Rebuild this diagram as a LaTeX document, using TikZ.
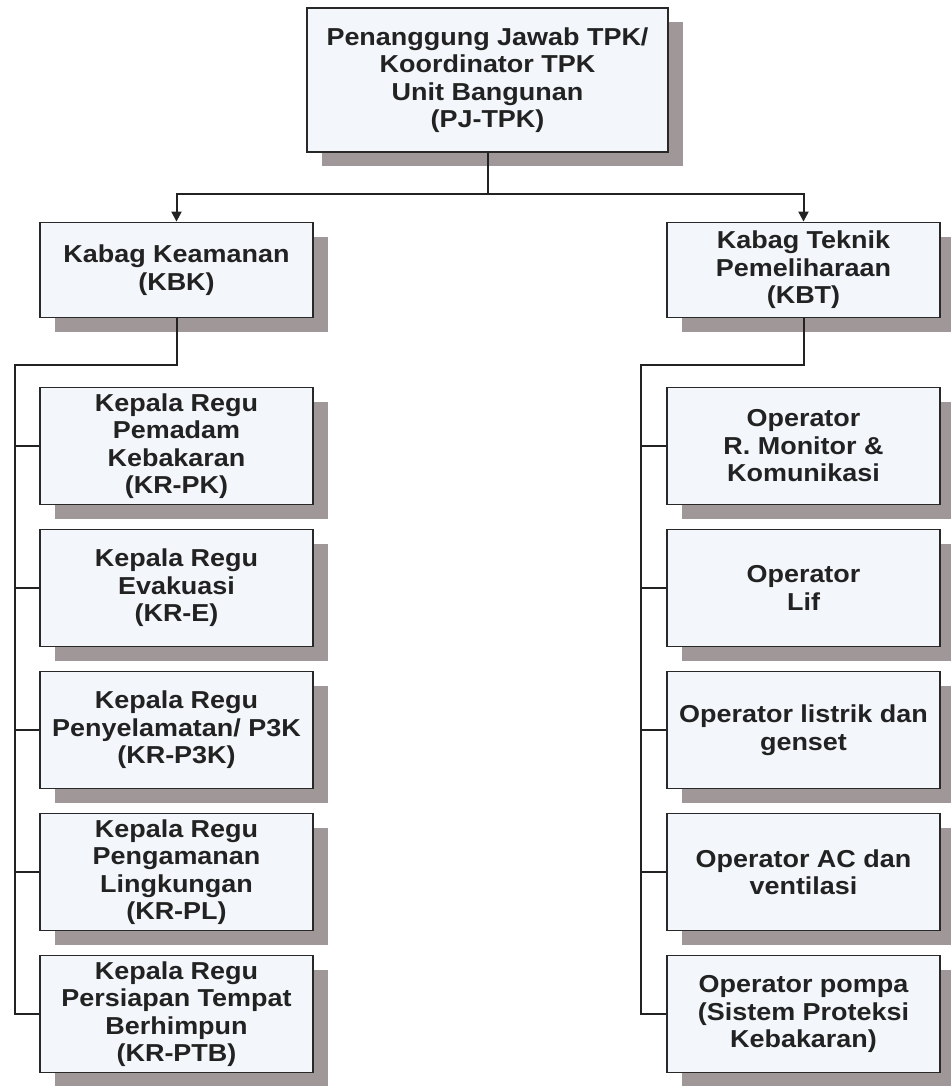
\documentclass[tikz,border=0pt]{standalone}
\usepackage{fontspec}
\setmainfont{Liberation Sans}[FakeStretch=1.1]
\usetikzlibrary{arrows.meta,shadows}
\definecolor{boxfill}{RGB}{243,246,250}
\definecolor{boxline}{RGB}{40,40,40}
\definecolor{shadowgrey}{RGB}{160,151,153}
\definecolor{inkgrey}{RGB}{34,34,34}

\begin{document}
\begin{tikzpicture}[x=1pt, y=-1pt,
  orgbox/.style={rectangle, draw=boxline, line width=1.8pt, fill=boxfill,
    drop shadow={shadow xshift=15pt, shadow yshift=-14pt, fill=shadowgrey, opacity=1},
    minimum width=273pt, minimum height=117pt, inner sep=0pt, align=center,
    text=inkgrey, font=\fontsize{24.5}{27.5}\selectfont\bfseries},
  link/.style={draw=inkgrey, line width=2pt}]

\useasboundingbox (0,0) rectangle (950,1086);

% Struktur TPK

\node[orgbox, minimum width=361pt, minimum height=144pt] (pj) at (487.5,80)
  {Penanggung Jawab TPK/\\Koordinator TPK\\Unit Bangunan\\(PJ-TPK)};
\node[orgbox, minimum height=95pt] (kbk) at (176.5,270) {Kabag Keamanan\\(KBK)};
\node[orgbox, minimum height=95pt] (kbt) at (803.5,270) {Kabag Teknik\\Pemeliharaan\\(KBT)};

% regu keamanan

\node[orgbox] (k1) at (176.5,446) {Kepala Regu\\Pemadam\\Kebakaran\\(KR-PK)};
\node[orgbox] (k2) at (176.5,588) {Kepala Regu\\Evakuasi\\(KR-E)};
\node[orgbox] (k3) at (176.5,730) {Kepala Regu\\Penyelamatan/ P3K\\(KR-P3K)};
\node[orgbox] (k4) at (176.5,872) {Kepala Regu\\Pengamanan\\Lingkungan\\(KR-PL)};
\node[orgbox] (k5) at (176.5,1014) {Kepala Regu\\Persiapan Tempat\\Berhimpun\\(KR-PTB)};

% operator teknik

\node[orgbox] (o1) at (803.5,446) {Operator\\R. Monitor \&\\Komunikasi};
\node[orgbox] (o2) at (803.5,588) {Operator\\Lif};
\node[orgbox] (o3) at (803.5,730) {Operator listrik dan\\genset};
\node[orgbox] (o4) at (803.5,872) {Operator AC dan\\ventilasi};
\node[orgbox] (o5) at (803.5,1014) {Operator pompa\\(Sistem Proteksi\\Kebakaran)};

% edges

\draw[link, -{Triangle[width=10pt,length=10pt]}] (pj.south) -- ++(0,41) -| (kbk.north);
\draw[link, -{Triangle[width=10pt,length=10pt]}] (pj.south) -- ++(0,41) -| (kbt.north);

\coordinate (lbus) at (15,365);
\coordinate (rbus) at (641,365);

\draw[link] (kbk.south) |- (lbus) -- (lbus |- k5.west) -- (k5.west);
\draw[link] (lbus |- k1.west) -- (k1.west);
\draw[link] (lbus |- k2.west) -- (k2.west);
\draw[link] (lbus |- k3.west) -- (k3.west);
\draw[link] (lbus |- k4.west) -- (k4.west);

\draw[link] (kbt.south) |- (rbus) -- (rbus |- o5.west) -- (o5.west);
\draw[link] (rbus |- o1.west) -- (o1.west);
\draw[link] (rbus |- o2.west) -- (o2.west);
\draw[link] (rbus |- o3.west) -- (o3.west);
\draw[link] (rbus |- o4.west) -- (o4.west);

\end{tikzpicture}
\end{document}
